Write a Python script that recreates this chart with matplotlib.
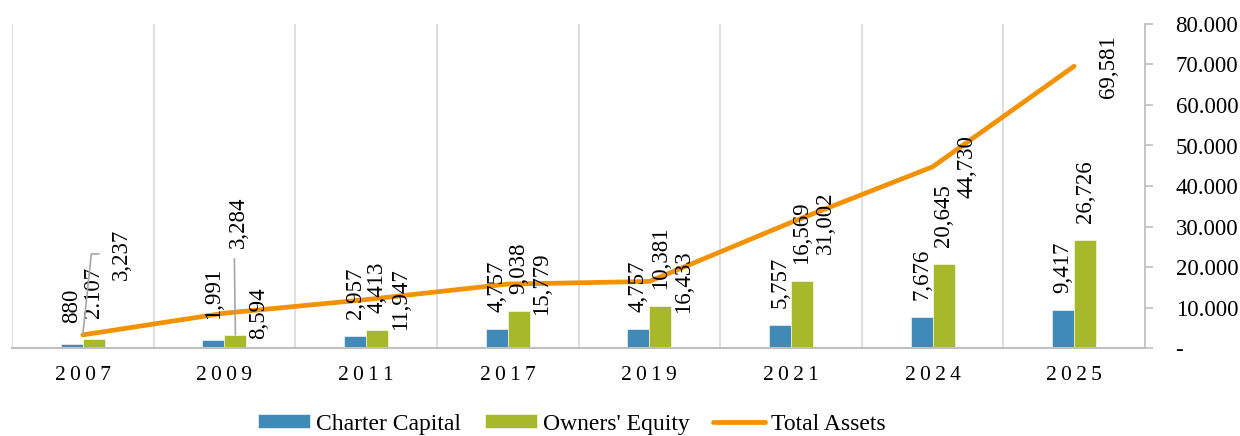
import matplotlib
matplotlib.use("Agg")
import matplotlib.pyplot as plt
import numpy as np

years = ["2007", "2009", "2011", "2017", "2019", "2021", "2024", "2025"]
charter_capital = [880, 1991, 2957, 4757, 4757, 5757, 7676, 9417]
owners_equity = [2107, 3284, 4413, 9038, 10381, 16569, 20645, 26726]
total_assets = [3237, 8594, 11947, 15779, 16433, 31002, 44730, 69581]
charter_labels = ["880", "1,991", "2,957", "4,757", "4,757", "5,757", "7,676", "9,417"]
equity_labels = ["2.107", "3,284", "4,413", "9,038", "10,381", "16,569", "20,645", "26,726"]
assets_labels = ["3,237", "8,594", "11,947", "15,779", "16,433", "31,002", "44,730", "69,581"]
yticks = [0, 10000, 20000, 30000, 40000, 50000, 60000, 70000, 80000]
ytick_labels = ["-", "10.000", "20.000", "30.000", "40.000", "50.000", "60.000", "70.000", "80.000"]

BLUE = "#4189b6"
GREEN = "#a7b92a"
ORANGE = "#f39200"
GRID = "#d9d9d9"
AXIS = "#bfbfbf"
FONT = ["Liberation Serif", "DejaVu Serif"]

plt.rcParams["font.family"] = FONT

fig = plt.figure(figsize=(12.4, 4.36), dpi=100)
ax = fig.add_axes([12 / 1240, 88 / 436, 1133 / 1240, 324 / 436])

x = np.arange(len(years))
bw = 0.155
b1 = ax.bar(x - bw / 2, charter_capital, bw, color=BLUE, edgecolor="white", linewidth=0.4,
            label="Charter Capital", zorder=2)
b2 = ax.bar(x + bw / 2, owners_equity, bw, color=GREEN, edgecolor="white", linewidth=0.4,
            label="Owners' Equity", zorder=2)
ln, = ax.plot(x, total_assets, color=ORANGE, lw=3.4, solid_capstyle="round",
              solid_joinstyle="round", label="Total Assets", zorder=3)

ax.set_xlim(-0.5, len(years) - 0.5)
ax.set_ylim(0, 80000)

# vertical gridlines at category boundaries
ax.set_xticks(x)
ax.set_xticks(np.arange(-0.5, len(years)), minor=True)
ax.grid(which="minor", axis="x", color=GRID, lw=1.2, zorder=0)
ax.grid(which="major", visible=False)
ax.tick_params(axis="x", which="both", length=0, pad=13, labelsize=15.5)
ax.set_xticklabels(["\u2009".join(y) for y in years])

ax.yaxis.tick_right()
ax.set_yticks(yticks)
ax.set_yticklabels(ytick_labels)
ax.tick_params(axis="y", length=6, width=1.2, color=AXIS, pad=16, labelsize=16.5)

for s in ["top", "left"]:
    ax.spines[s].set_visible(False)
ax.spines["right"].set_color(AXIS)
ax.spines["right"].set_linewidth(1.2)
ax.spines["bottom"].set_color(AXIS)
ax.spines["bottom"].set_linewidth(1.5)

lab_kw = dict(rotation=90, fontsize=16.5, textcoords="offset pixels", annotation_clip=False)
leader = dict(arrowstyle="-", color="#a6a6a6", lw=1.2, shrinkA=0, shrinkB=0)

for i in range(len(years)):
    pad = 21 if i < 2 else 17
    ax.annotate(charter_labels[i], (x[i] - bw / 2, charter_capital[i]), xytext=(0, pad),
                ha="center", va="bottom", **lab_kw)
    if i == 1:
        ax.annotate(equity_labels[i], (x[i] + bw / 2, owners_equity[i]), xytext=(3, 87),
                    ha="center", va="bottom",
                    arrowprops=dict(leader, relpos=(0.3, 0.0), shrinkA=6), **lab_kw)
    else:
        ax.annotate(equity_labels[i], (x[i] + bw / 2, owners_equity[i]), xytext=(0, pad),
                    ha="center", va="bottom", **lab_kw)
    if i == 0:
        ax.annotate(assets_labels[i], (x[i], total_assets[i]), xytext=(39, 81),
                    ha="center", va="center",
                    arrowprops=dict(leader, relpos=(0.0, 0.5),
                                    connectionstyle="angle,angleA=0,angleB=84,rad=0",
                                    shrinkA=7),
                    **lab_kw)
    else:
        ax.annotate(assets_labels[i], (x[i], total_assets[i]), xytext=(34, 0),
                    ha="center", va="center", **lab_kw)

fig.legend(handles=[b1, b2, ln], loc="center", bbox_to_anchor=(572 / 1240, 12 / 436),
           ncol=3, frameon=False, fontsize=17, handlelength=2.2, handleheight=0.5,
           handletextpad=0.25, columnspacing=1.0, borderaxespad=0, borderpad=0)

fig.savefig("out.png", dpi=100)
